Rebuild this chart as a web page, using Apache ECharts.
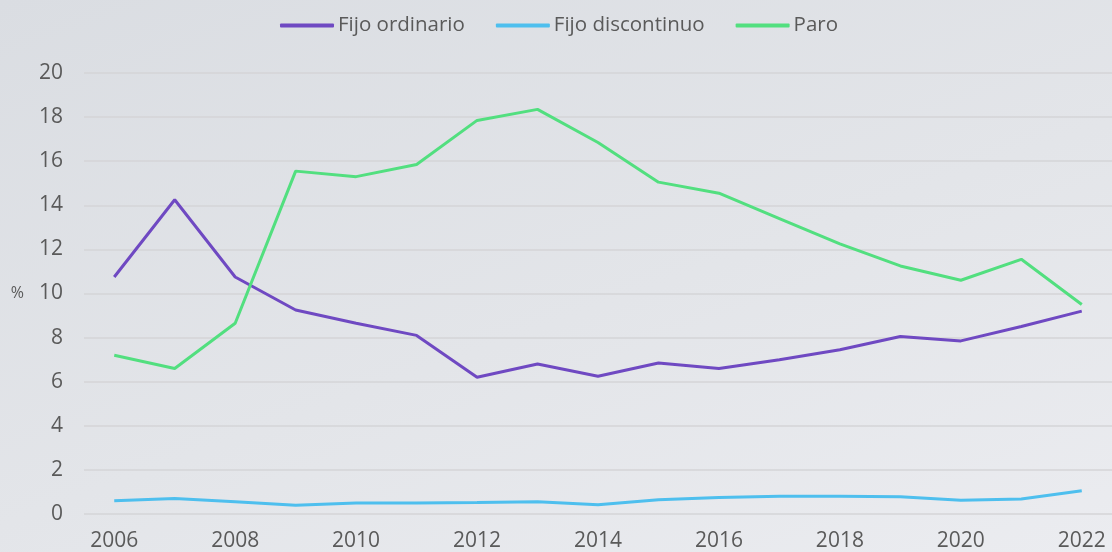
<!DOCTYPE html>
<html>
<head>
<meta charset="utf-8">
<script src="https://cdn.jsdelivr.net/npm/echarts@6/dist/echarts.min.js"></script>
<style>
  html, body { margin: 0; padding: 0; }
  #chart {
    width: 1112px;
    height: 552px;
    background: linear-gradient(160deg, #dadde2 0%, #e3e5e9 55%, #ebecf0 100%);
  }
</style>
</head>
<body>
<div id="chart"></div>
<script>
const years = ['2006', '2007', '2008', '2009', '2010', '2011', '2012', '2013', '2014',
  '2015', '2016', '2017', '2018', '2019', '2020', '2021', '2022'];
const fijoOrdinario = [10.75, 14.25, 10.75, 9.25, 8.65, 8.1, 6.2, 6.8, 6.25, 6.85, 6.6, 7.0, 7.45, 8.05, 7.85, 8.5, 9.2];
const fijoDiscontinuo = [0.6, 0.7, 0.55, 0.4, 0.5, 0.5, 0.52, 0.55, 0.42, 0.65, 0.75, 0.8, 0.8, 0.78, 0.62, 0.68, 1.05];
const paro = [7.2, 6.6, 8.65, 15.55, 15.3, 15.85, 17.85, 18.35, 16.85, 15.05, 14.55, 13.4, 12.25, 11.25, 10.6, 11.55, 9.5];

const myChart = echarts.init(document.getElementById('chart'));
const font = '"Open Sans", sans-serif';

function line(name, data, color) {
  return {
    name: name,
    type: 'line',
    data: data,
    symbol: 'none',
    lineStyle: { width: 3, color: color },
    itemStyle: { color: color }
  };
}

const option = {
  animation: false,
  textStyle: { fontFamily: font },
  legend: {
    top: 10,
    left: 275,
    itemWidth: 54,
    itemHeight: 4,
    itemGap: 31,
    icon: 'roundRect',
    textStyle: { color: '#5a5a5a', fontSize: 20.5, fontFamily: font, padding: [0, 0, 0, -1] },
    data: ['Fijo ordinario', 'Fijo discontinuo', 'Paro']
  },
  grid: { left: 84, right: 0, top: 73, bottom: 38 },
  xAxis: {
    type: 'category',
    data: years,
    boundaryGap: true,
    axisLine: { show: false },
    axisTick: { show: false },
    axisLabel: { interval: 1, color: '#5a5a5a', fontSize: 21, margin: 17 }
  },
  yAxis: {
    type: 'value',
    min: 0,
    max: 20,
    interval: 2,
    name: '%',
    nameLocation: 'middle',
    nameRotate: 0,
    nameGap: 60,
    nameTextStyle: { color: '#5a5a5a', fontSize: 16, padding: [4, 0, 0, 0] },
    axisLine: { show: false },
    axisTick: { show: false },
    axisLabel: { color: '#5a5a5a', fontSize: 21, margin: 21 },
    splitLine: { lineStyle: { color: '#d4d4d7', width: 1.5 } }
  },
  series: [
    line('Fijo ordinario', fijoOrdinario, '#6f49c2'),
    line('Fijo discontinuo', fijoDiscontinuo, '#4ebfee'),
    line('Paro', paro, '#52df7f')
  ]
};

myChart.setOption(option);
</script>
</body>
</html>
